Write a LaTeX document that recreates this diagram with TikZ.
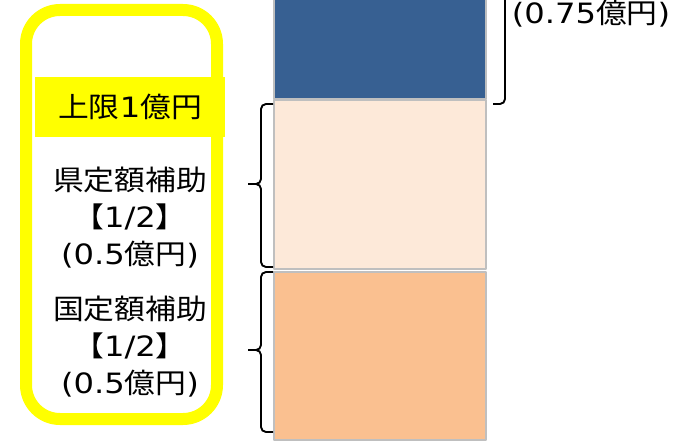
\documentclass[tikz,border=0pt]{standalone}
\usepackage{fontspec}
\newfontfamily\jpfont[FakeStretch=1.1]{Noto Sans CJK JP}
\newfontfamily\latfont[FakeStretch=1.15]{DejaVu Sans}
\newcommand\lat[1]{{\latfont #1}}
\definecolor{capyellow}{RGB}{255,255,0}
\definecolor{topblue}{RGB}{55,96,146}
\definecolor{kenpeach}{RGB}{253,233,217}
\definecolor{kuniorange}{RGB}{250,192,144}
\definecolor{barline}{RGB}{191,191,191}

\begin{document}
\begin{tikzpicture}[x=1pt,y=-1pt,line join=round,
  bar/.style={draw=barline,line width=1.5pt},
  amount/.style={font={\jpfont\fontsize{28}{37}\selectfont},align=center,inner sep=0pt},
  curly/.style={line width=1.9pt,rounded corners=5pt}]
\useasboundingbox (0,0) rectangle (676,446);
\clip (0,0) rectangle (676,446);

% the yellow frame round the subsidy texts
\draw[capyellow,line width=12pt,rounded corners=34pt] (26,10) rectangle (217,419);
\node[amount,fill=capyellow,minimum width=190pt,minimum height=60pt] (cap) at (130,107) {上限\lat{1}億円};

% texts of the two subsidies
\node[amount] (ken) at (130,218) {県定額補助\\【\lat{1/2}】\\\lat{(0.5}億円\lat{)}};
\node[amount] (kuni) at (130,347) {国定額補助\\【\lat{1/2}】\\\lat{(0.5}億円\lat{)}};

% the stacked bars
\foreach \ytop/\ybot/\col in {-10/99/topblue,100/269/kenpeach,272/440/kuniorange}
  \draw[bar,fill=\col] (274,\ytop) rectangle (486,\ybot);

% braces left of the bars
\foreach \ytop/\ymid/\ybot in {104/184/267,272/350/432} {
  \draw[curly] (273,\ytop) -- (261,\ytop) -- (261,\ymid) -- (248,\ymid);
  \draw[curly] (248,\ymid) -- (261,\ymid) -- (261,\ybot) -- (273,\ybot);
}

% brace right of the top bar, its tip is cut off
\draw[curly] (505,-20) -- (505,104) -- (493,104);
\node[amount,anchor=base] (top) at (591,24) {\lat{(0.75}億円\lat{)}};
\end{tikzpicture}
\end{document}
